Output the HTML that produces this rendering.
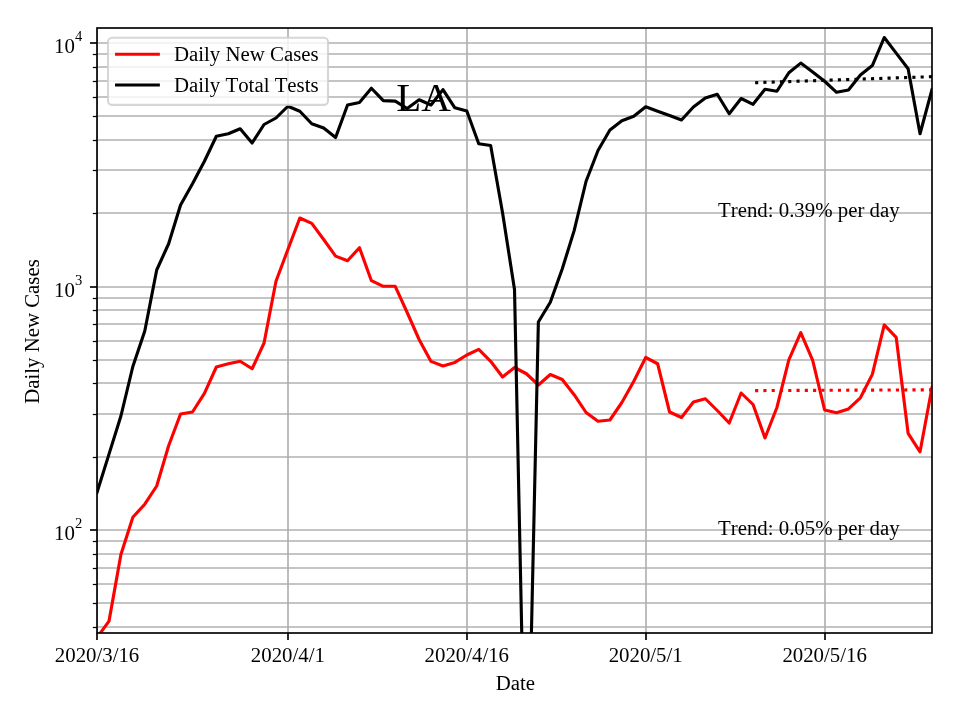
<!DOCTYPE html><html><head><meta charset="utf-8"><style>html,body{margin:0;padding:0;background:#fff;width:960px;height:720px;overflow:hidden}svg{display:block}text{font-family:"Liberation Serif",serif;fill:#000;font-kerning:none}svg{will-change:transform}</style></head><body>
<svg width="960" height="720" viewBox="0 0 960 720">
<rect x="0" y="0" width="960" height="720" fill="#fff"/>
<defs><clipPath id="ax"><rect x="97.00" y="28.00" width="835.00" height="605.00"/></clipPath></defs>
<g stroke="#b0b0b0" stroke-width="1.667" clip-path="url(#ax)">
<line x1="97.00" y1="28.00" x2="97.00" y2="633.00"/>
<line x1="288.00" y1="28.00" x2="288.00" y2="633.00"/>
<line x1="467.00" y1="28.00" x2="467.00" y2="633.00"/>
<line x1="646.00" y1="28.00" x2="646.00" y2="633.00"/>
<line x1="825.00" y1="28.00" x2="825.00" y2="633.00"/>
<line x1="97.00" y1="530.00" x2="932.00" y2="530.00"/>
<line x1="97.00" y1="287.00" x2="932.00" y2="287.00"/>
<line x1="97.00" y1="43.00" x2="932.00" y2="43.00"/>
<line x1="97.00" y1="627.00" x2="932.00" y2="627.00"/>
<line x1="97.00" y1="603.00" x2="932.00" y2="603.00"/>
<line x1="97.00" y1="584.00" x2="932.00" y2="584.00"/>
<line x1="97.00" y1="568.00" x2="932.00" y2="568.00"/>
<line x1="97.00" y1="554.00" x2="932.00" y2="554.00"/>
<line x1="97.00" y1="541.00" x2="932.00" y2="541.00"/>
<line x1="97.00" y1="457.00" x2="932.00" y2="457.00"/>
<line x1="97.00" y1="414.00" x2="932.00" y2="414.00"/>
<line x1="97.00" y1="383.00" x2="932.00" y2="383.00"/>
<line x1="97.00" y1="360.00" x2="932.00" y2="360.00"/>
<line x1="97.00" y1="341.00" x2="932.00" y2="341.00"/>
<line x1="97.00" y1="324.00" x2="932.00" y2="324.00"/>
<line x1="97.00" y1="310.00" x2="932.00" y2="310.00"/>
<line x1="97.00" y1="298.00" x2="932.00" y2="298.00"/>
<line x1="97.00" y1="213.00" x2="932.00" y2="213.00"/>
<line x1="97.00" y1="170.00" x2="932.00" y2="170.00"/>
<line x1="97.00" y1="140.00" x2="932.00" y2="140.00"/>
<line x1="97.00" y1="116.00" x2="932.00" y2="116.00"/>
<line x1="97.00" y1="97.00" x2="932.00" y2="97.00"/>
<line x1="97.00" y1="81.00" x2="932.00" y2="81.00"/>
<line x1="97.00" y1="67.00" x2="932.00" y2="67.00"/>
<line x1="97.00" y1="54.00" x2="932.00" y2="54.00"/>
</g>
<g clip-path="url(#ax)" fill="none" stroke-width="3.125" stroke-linejoin="round" stroke-linecap="square">
<polyline stroke="#ff0000" points="97.07,637.60 109.00,621.10 120.92,554.50 132.85,517.20 144.78,504.20 156.70,486.00 168.63,445.80 180.56,414.00 192.49,412.00 204.41,393.30 216.34,367.00 228.27,363.75 240.19,361.25 252.12,368.75 264.05,343.00 275.98,281.25 287.90,249.50 299.83,218.00 311.76,223.40 323.68,239.50 335.61,256.10 347.54,260.70 359.46,247.70 371.39,280.70 383.32,286.30 395.25,286.30 407.17,312.50 419.10,339.50 431.03,361.40 442.95,366.00 454.88,362.40 466.81,355.00 478.73,349.30 490.66,361.30 502.59,377.00 514.51,367.50 526.44,373.75 538.37,385.00 550.30,374.50 562.22,379.50 574.15,394.70 586.08,412.50 598.00,421.25 609.93,420.00 621.86,402.50 633.79,381.25 645.71,357.50 657.64,363.75 669.57,412.00 681.49,417.50 693.42,402.00 705.35,398.75 717.27,410.50 729.20,423.00 741.13,393.00 753.06,404.50 764.98,438.00 776.91,407.50 788.84,359.80 800.76,332.70 812.69,360.40 824.62,410.00 836.54,412.70 848.47,408.90 860.40,397.80 872.33,374.40 884.25,324.90 896.18,337.30 908.11,433.30 920.03,451.80 931.96,387.80"/>
<polyline stroke="#000000" points="97.07,492.40 109.00,454.10 120.92,416.00 132.85,366.50 144.78,331.00 156.70,270.00 168.63,243.75 180.56,205.00 192.49,183.75 204.41,161.25 216.34,136.25 228.27,133.75 240.19,128.75 252.12,143.00 264.05,124.50 275.98,118.00 287.90,106.25 299.83,111.25 311.76,123.75 323.68,128.00 335.61,137.50 347.54,105.00 359.46,102.50 371.39,88.25 383.32,100.60 395.25,101.10 407.17,108.50 419.10,99.80 431.03,105.00 442.95,89.60 454.88,107.80 466.81,111.00 478.73,143.75 490.66,145.50 502.59,213.00 514.51,289.50 526.44,855.00 538.37,322.00 550.30,302.30 562.22,269.00 574.15,230.60 586.08,181.25 598.00,150.50 609.93,130.00 621.86,120.75 633.79,116.25 645.71,106.75 657.64,111.25 669.57,115.50 681.49,120.00 693.42,107.00 705.35,98.00 717.27,94.25 729.20,113.75 741.13,98.50 753.06,104.30 764.98,89.20 776.91,91.25 788.84,72.75 800.76,63.10 812.69,71.90 824.62,81.25 836.54,92.30 848.47,90.00 860.40,75.00 872.33,65.60 884.25,37.50 896.18,53.10 908.11,68.75 920.03,133.75 931.96,89.60"/>
</g>
<g clip-path="url(#ax)" fill="none" stroke-width="3.125" stroke-dasharray="3.125 5.156">
<line stroke="#000" x1="755.10" y1="82.7" x2="936.96" y2="76.5"/>
<line stroke="#ff0000" x1="755.10" y1="390.6" x2="936.96" y2="389.8"/>
</g>
<text x="718" y="216.8" font-size="20.83">Trend: 0.39% per day</text>
<text x="718" y="534.8" font-size="20.83">Trend: 0.05% per day</text>
<text x="396.2" y="110.5" font-size="41">LA</text>
<g stroke="#000" stroke-width="1.667" fill="none">
<rect x="97.00" y="28.00" width="835.00" height="605.00" stroke-linejoin="miter"/>
</g>
<g stroke="#000">
<line x1="97.00" y1="633.00" x2="97.00" y2="640.00" stroke-width="1.667"/>
<line x1="288.00" y1="633.00" x2="288.00" y2="640.00" stroke-width="1.667"/>
<line x1="467.00" y1="633.00" x2="467.00" y2="640.00" stroke-width="1.667"/>
<line x1="646.00" y1="633.00" x2="646.00" y2="640.00" stroke-width="1.667"/>
<line x1="825.00" y1="633.00" x2="825.00" y2="640.00" stroke-width="1.667"/>
<line x1="90.00" y1="530.00" x2="97.00" y2="530.00" stroke-width="1.667"/>
<line x1="90.00" y1="287.00" x2="97.00" y2="287.00" stroke-width="1.667"/>
<line x1="90.00" y1="43.00" x2="97.00" y2="43.00" stroke-width="1.667"/>
<line x1="92.83" y1="627.50" x2="97.00" y2="627.50" stroke-width="1.25"/>
<line x1="92.83" y1="603.50" x2="97.00" y2="603.50" stroke-width="1.25"/>
<line x1="92.83" y1="584.50" x2="97.00" y2="584.50" stroke-width="1.25"/>
<line x1="92.83" y1="568.50" x2="97.00" y2="568.50" stroke-width="1.25"/>
<line x1="92.83" y1="554.50" x2="97.00" y2="554.50" stroke-width="1.25"/>
<line x1="92.83" y1="541.50" x2="97.00" y2="541.50" stroke-width="1.25"/>
<line x1="92.83" y1="457.50" x2="97.00" y2="457.50" stroke-width="1.25"/>
<line x1="92.83" y1="414.50" x2="97.00" y2="414.50" stroke-width="1.25"/>
<line x1="92.83" y1="383.50" x2="97.00" y2="383.50" stroke-width="1.25"/>
<line x1="92.83" y1="360.50" x2="97.00" y2="360.50" stroke-width="1.25"/>
<line x1="92.83" y1="341.50" x2="97.00" y2="341.50" stroke-width="1.25"/>
<line x1="92.83" y1="324.50" x2="97.00" y2="324.50" stroke-width="1.25"/>
<line x1="92.83" y1="310.50" x2="97.00" y2="310.50" stroke-width="1.25"/>
<line x1="92.83" y1="298.50" x2="97.00" y2="298.50" stroke-width="1.25"/>
<line x1="92.83" y1="213.50" x2="97.00" y2="213.50" stroke-width="1.25"/>
<line x1="92.83" y1="170.50" x2="97.00" y2="170.50" stroke-width="1.25"/>
<line x1="92.83" y1="140.50" x2="97.00" y2="140.50" stroke-width="1.25"/>
<line x1="92.83" y1="116.50" x2="97.00" y2="116.50" stroke-width="1.25"/>
<line x1="92.83" y1="97.50" x2="97.00" y2="97.50" stroke-width="1.25"/>
<line x1="92.83" y1="81.50" x2="97.00" y2="81.50" stroke-width="1.25"/>
<line x1="92.83" y1="67.50" x2="97.00" y2="67.50" stroke-width="1.25"/>
<line x1="92.83" y1="54.50" x2="97.00" y2="54.50" stroke-width="1.25"/>
</g>
<text x="97.07" y="661.9" font-size="20.83" text-anchor="middle">2020/3/16</text>
<text x="287.90" y="661.9" font-size="20.83" text-anchor="middle">2020/4/1</text>
<text x="466.81" y="661.9" font-size="20.83" text-anchor="middle">2020/4/16</text>
<text x="645.71" y="661.9" font-size="20.83" text-anchor="middle">2020/5/1</text>
<text x="824.62" y="661.9" font-size="20.83" text-anchor="middle">2020/5/16</text>
<text x="74.9" y="540.00" font-size="20.83" text-anchor="end">10</text>
<text x="75.0" y="528.30" font-size="14.58">2</text>
<text x="74.9" y="296.55" font-size="20.83" text-anchor="end">10</text>
<text x="75.0" y="284.85" font-size="14.58">3</text>
<text x="74.9" y="53.10" font-size="20.83" text-anchor="end">10</text>
<text x="75.0" y="41.40" font-size="14.58">4</text>
<text x="515.3" y="689.8" font-size="20.83" text-anchor="middle">Date</text>
<text transform="translate(39,331.5) rotate(-90)" x="0" y="0" font-size="20.83" text-anchor="middle">Daily New Cases</text>
<rect x="108" y="37.8" width="220" height="67.1" rx="4.2" ry="4.2" fill="#fff" fill-opacity="0.8" stroke="#cccccc" stroke-opacity="0.8" stroke-width="2.083"/>
<line x1="116.6" y1="54.25" x2="158.3" y2="54.25" stroke="#ff0000" stroke-width="3.125" stroke-linecap="square"/>
<line x1="116.6" y1="85" x2="158.3" y2="85" stroke="#000" stroke-width="3.125" stroke-linecap="square"/>
<text x="174.0" y="61.3" font-size="20.83">Daily New Cases</text>
<text x="174.0" y="91.9" font-size="20.83">Daily Total Tests</text>
</svg></body></html>
